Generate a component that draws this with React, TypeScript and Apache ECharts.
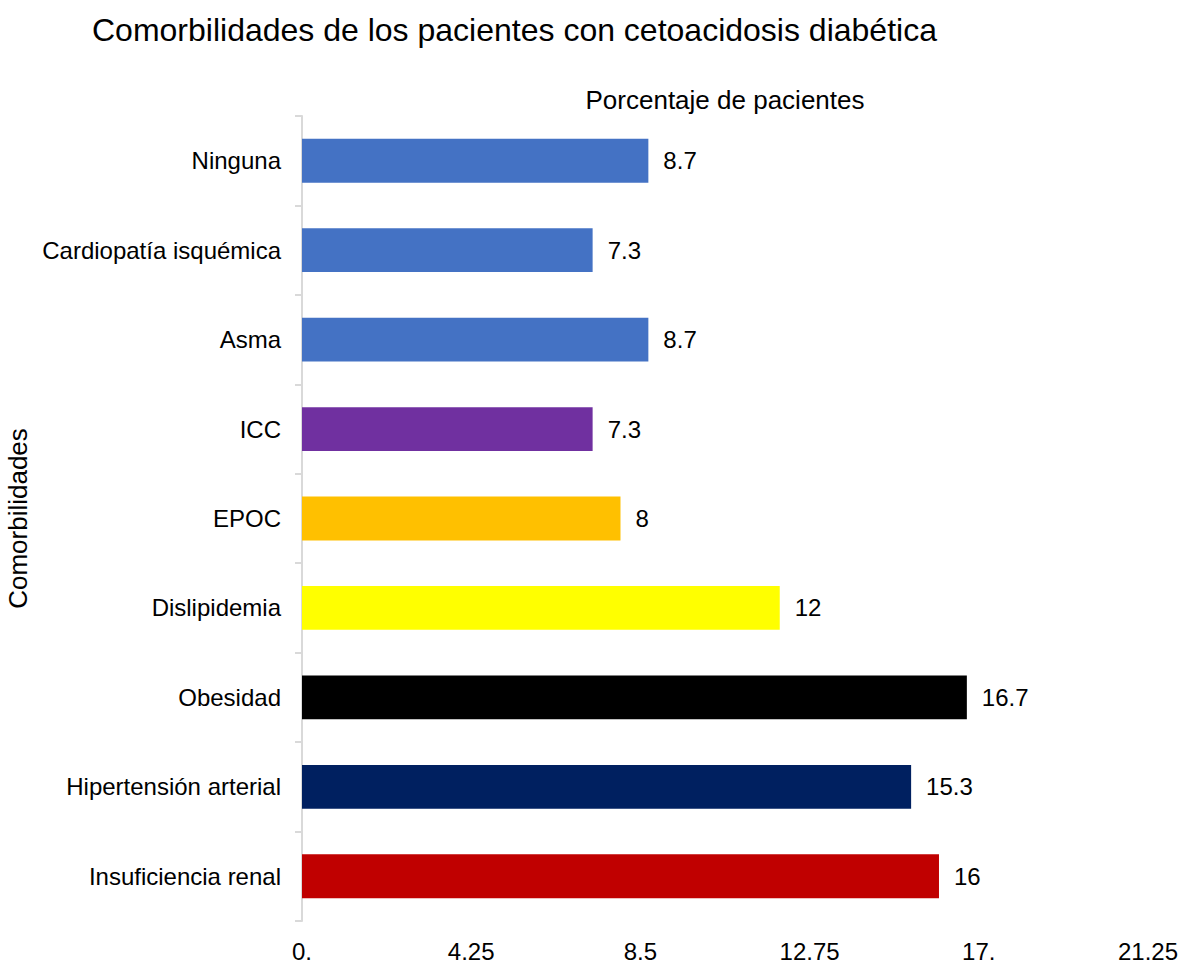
import React, { useEffect, useRef } from "react";
import * as echarts from "echarts";

const categories = [
  "Insuficiencia renal",
  "Hipertensión arterial",
  "Obesidad",
  "Dislipidemia",
  "EPOC",
  "ICC",
  "Asma",
  "Cardiopatía isquémica",
  "Ninguna",
];
const values = [16, 15.3, 16.7, 12, 8, 7.3, 8.7, 7.3, 8.7];
const colors = ["#C00000", "#002060", "#000000", "#FFFF00", "#FFC000", "#7030A0", "#4472C4", "#4472C4", "#4472C4"];
const xTicks = { min: 0, max: 21.25, interval: 4.25 };

export default function App() {
  const ref = useRef<HTMLDivElement>(null);
  useEffect(() => {
    if (!ref.current) return;
    const chart = echarts.init(ref.current, null, { renderer: "svg" });
    const font = "'Liberation Sans', Arial, sans-serif";
    chart.setOption({
      animation: false,
      textStyle: { fontFamily: font },
      title: {
        text: "Comorbilidades de los pacientes con cetoacidosis diabética",
        left: 87,
        top: 9,
        textStyle: { fontFamily: font, fontSize: 32, fontWeight: "normal", color: "#000" },
      },
      graphic: [
        {
          type: "text",
          x: 725,
          y: 100,
          style: {
            text: "Porcentaje de pacientes",
            font: `26px ${font}`,
            fill: "#000",
            align: "center",
            verticalAlign: "middle",
          },
        },
      ],
      grid: { left: 302, right: 38, top: 116, bottom: 42, containLabel: false, outerBoundsMode: "none" },
      xAxis: {
        type: "value",
        min: xTicks.min,
        max: xTicks.max,
        interval: xTicks.interval,
        axisLine: { show: false },
        axisTick: { show: false },
        splitLine: { show: false },
        axisLabel: {
          margin: 18,
          fontSize: 24,
          color: "#000",
          fontFamily: font,
          formatter: (v: number) => (Number.isInteger(v) ? `${v}.` : String(v)),
        },
      },
      yAxis: {
        type: "category",
        data: categories,
        name: "Comorbilidades",
        nameLocation: "middle",
        nameRotate: 90,
        nameGap: 268,
        nameTextStyle: { fontSize: 26, color: "#000", fontFamily: font },
        axisLine: { show: true, lineStyle: { color: "#d9d9d9", width: 2 } },
        axisTick: { show: true, length: 7, lineStyle: { color: "#d9d9d9", width: 2 } },
        axisLabel: { margin: 21, fontSize: 24, color: "#000", fontFamily: font },
      },
      series: [
        {
          type: "bar",
          barWidth: "49%",
          data: values.map((v, i) => ({ value: v, itemStyle: { color: colors[i] } })),
          label: {
            show: true,
            position: "right",
            distance: 15,
            fontSize: 24,
            color: "#000",
            fontFamily: font,
          },
        },
      ],
    });
    return () => chart.dispose();
  }, []);
  return <div ref={ref} style={{ position: "absolute", left: 0, top: 0, width: 1186, height: 963 }} />;
}
